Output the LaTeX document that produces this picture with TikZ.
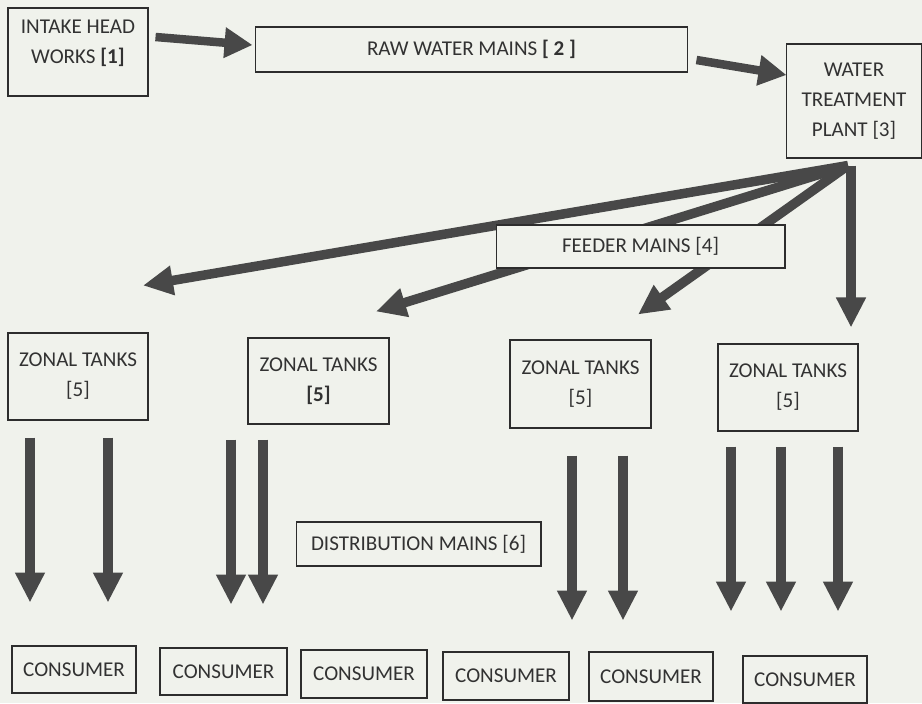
\documentclass[tikz,border=0pt]{standalone}
\usepackage{fontspec}
\setmainfont{Carlito}
\usetikzlibrary{arrows.meta}
\definecolor{paper}{RGB}{240,242,236}
\definecolor{ink}{RGB}{50,50,50}
\definecolor{pipe}{RGB}{72,72,72}
\definecolor{edgeline}{RGB}{45,45,45}

\begin{document}
\begin{tikzpicture}[x=0.02cm, y=-0.02cm,
    unit/.style={draw=edgeline, line width=0.6pt, fill=paper, text=ink, align=center,
        inner sep=0pt, font=\fontsize{12}{17}\selectfont},
    main/.style={draw=pipe, line width=0.19cm, -{Triangle[length=0.6cm, width=0.56cm]}},
    topmain/.style={draw=pipe, line width=0.17cm, -{Triangle[length=0.56cm, width=0.58cm]}}]
    \fill[paper] (0,0) rectangle (922,703);
    \useasboundingbox (0,0) rectangle (922,703);

    % source and treatment
    \node[unit, minimum width=2.8cm, minimum height=1.76cm, text depth=0.4cm] (intake) at (78,52) {INTAKE HEAD\\WORKS \textbf{[1]}};
    \node[unit, minimum width=8.66cm, minimum height=0.9cm] (rawmain) at (471.5,49.5) {RAW WATER MAINS \textbf{[ 2 ]}};
    \node[unit, minimum width=2.72cm, minimum height=2.28cm] (wtp) at (854,101) {WATER\\TREATMENT\\PLANT [3]};

    % zonal tanks
    \node[unit, minimum width=2.8cm, minimum height=1.74cm] (zone1) at (78,376.5) {ZONAL TANKS\\{[5]}};
    \node[unit, minimum width=2.82cm, minimum height=1.72cm] (zone2) at (318.5,381) {ZONAL TANKS\\\textbf{[5]}};
    \node[unit, minimum width=2.82cm, minimum height=1.76cm] (zone3) at (580.5,384) {ZONAL TANKS\\{[5]}};
    \node[unit, minimum width=2.8cm, minimum height=1.74cm] (zone4) at (788,387.5) {ZONAL TANKS\\{[5]}};

    \node[unit, minimum width=4.9cm, minimum height=0.88cm] (distmain) at (418.5,544) {DISTRIBUTION MAINS [6]};

    % consumers
    \node[unit, minimum width=2.48cm, minimum height=0.94cm] (cons1) at (74,669.5) {CONSUMER};
    \node[unit, minimum width=2.54cm, minimum height=0.94cm] (cons2) at (223.5,671.5) {CONSUMER};
    \node[unit, minimum width=2.52cm, minimum height=0.96cm] (cons3) at (364,674) {CONSUMER};
    \node[unit, minimum width=2.52cm, minimum height=0.96cm] (cons4) at (506,676) {CONSUMER};
    \node[unit, minimum width=2.48cm, minimum height=0.98cm] (cons5) at (651,676.5) {CONSUMER};
    \node[unit, minimum width=2.48cm, minimum height=0.94cm] (cons6) at (805,679.5) {CONSUMER};

    \draw[topmain] ([shift={(7,-15)}]intake.east) -- ([shift={(-2,-4.5)}]rawmain.west);
    \draw[topmain] ([shift={(8,10.5)}]rawmain.east) -- ([shift={(1,-26)}]wtp.west);

    % feeder mains fan out from the plant
    \coordinate (fan) at ([shift={(-6,7)}]wtp.south);
    \draw[main] (fan) -- ([shift={(65,-47)}]zone1.north);
    \draw[main] (fan) -- ([shift={(57.5,-26)}]zone2.north);
    \draw[main] (fan) -- ([shift={(57.5,-25)}]zone3.north);
    \draw[main] ([shift={(3,0)}]fan) -- ([shift={(63,-16)}]zone4.north);
    \node[unit, minimum width=5.78cm, minimum height=0.86cm] (feeder) at (640.5,246.5) {FEEDER MAINS [4]};

    % distribution mains
    \foreach \z/\dx/\dy in {zone1/-48/17, zone1/30/17, zone2/-87.5/15, zone2/-55.5/15,
        zone3/-8.5/27, zone3/42.5/27, zone4/-57/15, zone4/-7/15, zone4/50/15}
        \draw[main] ([shift={(\dx,\dy)}]\z.south) -- ++(0,165);
\end{tikzpicture}
\end{document}
